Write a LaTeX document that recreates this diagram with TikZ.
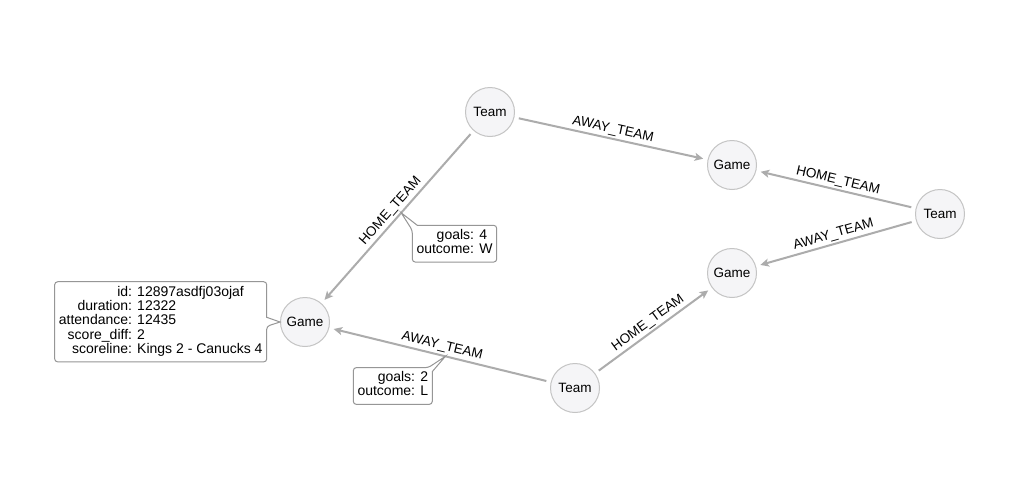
\documentclass[tikz,border=0pt]{standalone}
\usepackage{fontspec}
\setmainfont{Liberation Sans}
\usetikzlibrary{arrows.meta,calc}
\definecolor{edgegray}{RGB}{172,172,172}
\definecolor{nodefill}{RGB}{245,245,247}
\definecolor{nodeline}{RGB}{196,196,196}
\definecolor{boxline}{RGB}{150,150,150}
\begin{document}
\begin{tikzpicture}[x=1pt,y=-1pt,
  gnode/.style={circle, draw=nodeline, line width=1pt, fill=nodefill, minimum size=49pt, inner sep=0pt, font=\fontsize{13.5}{16}\selectfont},
  rel/.style={draw=edgegray, line width=2pt, -{Stealth[length=8.5pt,width=8pt,inset=2pt]}, shorten >=4.5pt, shorten <=4.5pt},
  rlabel/.style={midway, sloped, above, inner sep=2pt, font=\fontsize{13.5}{16}\selectfont},
  propbox/.style={inner xsep=4pt, inner ysep=4pt, font=\fontsize{14}{14}\selectfont},
  callout/.style={draw=boxline, line width=1pt}]
\fill[white] (0,0) rectangle (1021,485);
\path[use as bounding box] (0,0) rectangle (1021,485);

% nodes
\node[gnode] (t1) at (490,112) {Team};
\node[gnode] (g1) at (732,165) {Game};
\node[gnode] (t2) at (940,214) {Team};
\node[gnode] (g2) at (732,273) {Game};
\node[gnode] (g3) at (305,322) {Game};
\node[gnode] (t3) at (575,388) {Team};

% relationships
\draw[rel] (t1) -- node[rlabel] {AWAY\_TEAM} (g1);
\draw[rel] (t1) -- node[rlabel] {HOME\_TEAM} (g3);
\draw[rel] (t2) -- node[rlabel] {HOME\_TEAM} (g1);
\draw[rel] (t2) -- node[rlabel] {AWAY\_TEAM} (g2);
\draw[rel] (t3) -- node[rlabel] {HOME\_TEAM} (g2);
\draw[rel] (t3) -- node[rlabel] {AWAY\_TEAM} (g3);

% property box of the left game
\node[propbox] (props) at (160.7,321.8) {\begin{tabular}{@{}r@{ }l@{}}id:&12897asdfj03ojaf\\duration:&12322\\attendance:&12435\\score\_diff:&2\\scoreline:&Kings 2 - Canucks 4\end{tabular}};
\draw[callout] (g3.west) -- ([yshift=4.5pt]props.east) [rounded corners=3pt] -- (props.north east) -- (props.north west) -- (props.south west) -- (props.south east) -- ([yshift=-4.5pt]props.east) [sharp corners] -- cycle;

% property box of the HOME_TEAM relationship
\coordinate (tip1) at ($(t1)!0.48!(g3)$);
\node[propbox] (rel1) at (454.5,243.7) {\begin{tabular}{@{}r@{ }l@{}}goals:&4\\outcome:&W\end{tabular}};
\draw[callout] (tip1) -- ([xshift=5pt]rel1.north west) [rounded corners=3pt] -- (rel1.north east) -- (rel1.south east) -- (rel1.south west) -- ([yshift=-5pt]rel1.north west) [sharp corners] -- cycle;

% property box of the AWAY_TEAM relationship
\coordinate (tip2) at ($(t3)!0.48!(g3)$);
\node[propbox] (rel2) at (392.8,386) {\begin{tabular}{@{}r@{ }l@{}}goals:&2\\outcome:&L\end{tabular}};
\draw[callout] (tip2) -- ([yshift=-4pt]rel2.north east) [rounded corners=3pt] -- (rel2.south east) -- (rel2.south west) -- (rel2.north west) -- ([xshift=-4pt]rel2.north east) [sharp corners] -- cycle;
\end{tikzpicture}
\end{document}
